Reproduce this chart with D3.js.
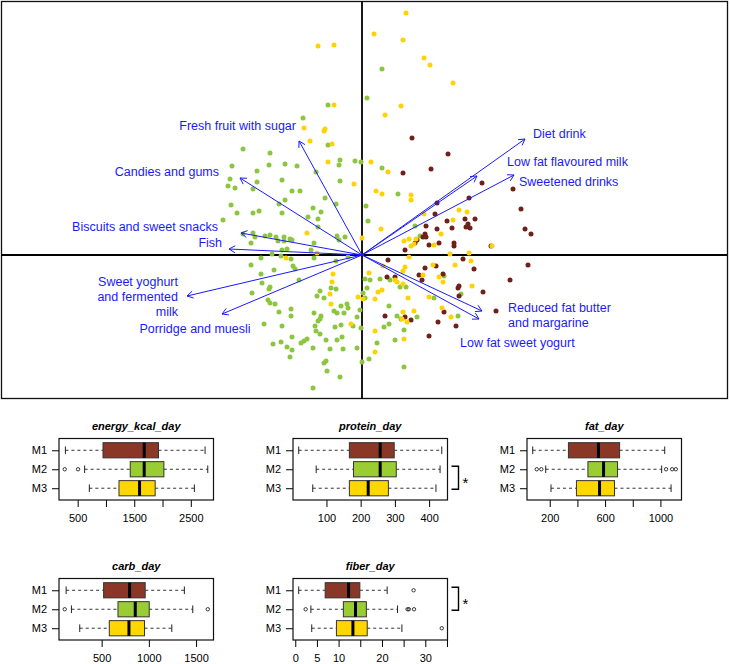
<!DOCTYPE html>
<html>
<head>
<meta charset="utf-8">
<script src="https://cdn.jsdelivr.net/npm/d3@7"></script>
<style>
  body { margin: 0; background: #fff; }
  text { font-family: "Liberation Sans", Arial, Helvetica, sans-serif; }
</style>
</head>
<body>
<div id="chart"></div>
<script>
// ---------- data ----------
const groups = ["M1", "M2", "M3"];

// PCA scores (PC1, PC2) per group
const scoresM1 = [
  [0.50,1.17],[0.86,1.01],[0.41,0.82],[0.69,0.86],[1.20,0.72],[1.51,0.66],[1.07,0.57],[0.75,0.52],
  [0.73,0.41],[1.59,0.46],[0.85,0.34],[0.90,0.27],[1.03,0.36],[1.13,0.36],[1.06,0.31],[1.04,0.28],
  [1.08,0.27],[1.63,0.26],[1.69,0.21],[0.64,0.29],[0.75,0.26],[0.63,0.21],[0.64,0.18],[0.55,0.15],
  [0.61,0.18],[0.53,0.12],[0.67,0.10],[0.77,0.12],[0.92,0.12],[0.92,0.09],[0.43,0.05],[1.29,0.09],
  [0.26,-0.05],[1.01,-0.04],[1.66,-0.10],[0.63,-0.13],[0.74,-0.11],[1.12,-0.14],[0.57,-0.20],[0.60,-0.25],
  [0.81,-0.19],[0.25,-0.22],[0.33,-0.22],[1.48,-0.25],[0.97,-0.31],[0.96,-0.33],[1.21,-0.37],[0.97,-0.41],
  [0.82,-0.57],[1.34,-0.56],[0.23,-0.61],[0.43,-0.62],[0.49,-0.65],[0.76,-0.67],[0.94,-0.71],[0.67,-0.81]
];
const scoresM2 = [
  [-0.34,1.50],[-0.59,1.37],[-0.34,1.10],[-1.19,1.06],[-0.92,1.02],[-1.30,0.89],[-0.93,0.90],[-0.77,0.91],
  [-0.65,0.89],[-0.22,0.95],[-0.23,0.90],[-0.07,0.94],[-0.01,0.93],[-0.46,0.83],[-1.32,0.76],[-1.05,0.84],
  [-1.05,0.73],[-0.80,0.75],[-1.34,0.69],[-1.27,0.67],[-1.09,0.66],[-0.22,0.74],[-0.70,0.64],[-0.62,0.64],
  [-0.37,0.57],[-0.77,0.55],[-0.83,0.51],[-1.31,0.50],[-0.26,0.51],[-0.49,0.47],[-1.03,0.44],[-1.09,0.42],
  [-1.25,0.42],[-0.80,0.42],[-0.41,0.43],[-0.54,0.38],[-0.44,0.36],[-1.39,0.35],[-0.44,0.28],[-1.09,0.22],
  [-1.19,0.21],[-0.97,0.19],[-0.92,0.20],[-0.86,0.18],[-0.78,0.18],[-0.72,0.16],[-0.70,0.15],[-1.07,0.18],
  [-0.25,0.19],[-0.17,0.18],[-0.23,0.15],[-1.11,0.12],[-0.84,0.14],[-0.78,0.14],[-0.48,0.12],[-0.80,0.05],
  [-0.75,0.06],[-0.51,0.05],[-0.90,0.01],
  [0.20,1.86],[0.05,1.57],[0.20,0.87],[0.36,0.61],[0.04,0.49],[0.06,0.34],[0.53,0.29],[0.58,0.19],
  [-1.01,-0.03],[-0.81,-0.01],[-0.71,-0.04],[-0.48,-0.03],[-0.26,-0.06],[-0.14,-0.02],[-1.11,-0.10],[-1.01,-0.19],
  [-0.88,-0.15],[-0.69,-0.11],[-0.67,-0.14],[-1.00,-0.28],[-0.92,-0.32],[-0.93,-0.34],[-1.10,-0.38],[-0.63,-0.25],
  [-0.42,-0.36],[-0.45,-0.41],[-0.38,-0.43],[-0.31,-0.33],[-0.26,-0.34],[0.01,-0.38],[-0.94,-0.45],[-0.92,-0.48],
  [-0.87,-0.49],[-0.71,-0.54],[-0.71,-0.61],[-0.83,-0.57],[-0.48,-0.58],[-0.41,-0.61],[-0.42,-0.64],[-0.44,-0.66],
  [-0.28,-0.56],[-0.25,-0.58],[-0.21,-0.51],[-0.15,-0.49],[-0.14,-0.53],[-0.18,-0.58],[-0.02,-0.55],[-0.05,-0.62],
  [-0.98,-0.69],[-0.80,-0.71],[-0.47,-0.71],[-0.46,-0.76],[-0.42,-0.79],[-0.27,-0.72],[-0.21,-0.70],[-0.09,-0.71],
  [-0.01,-0.73],[-0.70,-0.82],[-0.61,-0.88],[-0.58,-0.86],[-0.55,-0.84],[-0.89,-0.89],[-0.81,-0.87],[-0.75,-0.92],
  [-0.70,-0.95],[-0.49,-0.93],[-0.36,-0.85],[-0.25,-0.85],[-0.20,-0.82],[-0.32,-0.94],[-0.19,-0.94],[-0.05,-0.93],
  [-0.72,-1.02],[-0.38,-1.08],[-0.36,-1.06],[0.00,-1.07],[-0.35,-1.16],[-0.22,-1.22],[-0.49,-1.33],
  [0.03,-0.24],[0.08,-0.25],[0.18,-0.24],[0.28,-0.25],[0.82,-0.21],[0.38,-0.32],[0.44,-0.32],[0.05,-0.33],
  [0.99,-0.39],[0.72,-0.43],[0.03,-0.43],[0.27,-0.51],[0.35,-0.61],[0.39,-0.64],[0.55,-0.62],[0.96,-0.61],
  [0.27,-0.69],[0.22,-0.72],[0.42,-0.75],[0.33,-0.85],[0.15,-0.88],[0.07,-1.04],[0.42,-1.12]
];
const scoresM3 = [
  [-0.44,2.09],[-0.28,2.10],[-0.28,1.50],[-0.58,1.27],[-0.37,1.26],[-0.38,1.24],[-0.52,1.14],[-0.30,1.11],
  [-0.34,0.93],[-0.08,0.71],[-0.55,0.22],[0.00,0.17],[-0.45,0.02],
  [0.44,2.42],[0.12,2.21],[0.41,2.15],[0.62,1.97],[0.68,1.90],[0.91,1.72],[0.39,1.49],[0.23,1.40],
  [0.09,0.93],[0.26,0.83],[0.14,0.64],[0.20,0.61],[0.49,0.60],[0.49,0.55],[0.97,0.45],[1.05,0.43],
  [0.62,0.41],[0.91,0.35],[0.19,0.26],[0.79,0.21],[0.42,0.14],[0.47,0.16],[0.54,0.16],[0.49,0.09],
  [0.52,0.11],[0.72,0.10],[1.30,0.09],[0.88,0.01],[1.07,0.02],
  [-0.76,-0.03],[-0.29,-0.19],[-0.30,-0.27],[-0.32,-0.39],[-0.04,-0.42],[0.01,-0.44],[-0.31,-0.49],[-0.11,-0.69],
  [0.47,-0.02],[1.09,-0.06],[0.43,-0.12],[0.41,-0.16],[0.71,-0.10],[0.93,-0.10],[0.21,-0.11],[0.61,-0.20],
  [0.77,-0.22],[0.81,-0.27],[0.33,-0.25],[0.35,-0.27],[0.07,-0.18],[1.10,-0.31],[0.41,-0.29],[0.20,-0.35],
  [0.16,-0.37],[0.13,-0.44],[0.67,-0.42],[0.46,-0.43],[0.80,-0.53],[0.41,-0.57],[0.52,-0.56],[0.89,-0.62],
  [0.40,-0.64],[0.45,-0.67],[0.13,-0.76],[0.42,-0.84],[0.13,-0.97]
];

// loadings (arrows)
const loadingNames = [
  ["Fresh fruit with sugar"], ["Candies and gums"], ["Biscuits and sweet snacks"], ["Fish"],
  ["Sweet yoghurt", "and fermented", "milk"], ["Porridge and muesli"], ["Diet drink"],
  ["Low fat flavoured milk"], ["Sweetened drinks"], ["Reduced fat butter", "and margarine"],
  ["Low fat sweet yogurt"]
];
const loadingPC1 = [-0.63, -1.22, -1.21, -1.33, -1.75, -1.40, 1.63, 1.15, 1.52, 1.20, 1.17];
const loadingPC2 = [ 1.14,  0.77,  0.22,  0.06, -0.41, -0.59, 1.16, 0.79, 0.80, -0.56, -0.64];

// boxplot summaries: [lower whisker, Q1, median, Q3, upper whisker] for M1, M2, M3
const energyStats = [[283, 948, 1676, 1929, 2752], [623, 1429, 1676, 2024, 2800], [706, 1230, 1594, 1870, 2563]];
const energyOut = [[], [271, 507], []];
const proteinStats = [[19, 167, 257, 298, 437], [70, 179, 257, 304, 432], [60, 167, 222, 281, 420]];
const proteinOut = [[], [], []];
const fatStats = [[77, 335, 552, 705, 1031], [171, 476, 589, 690, 1009], [209, 393, 560, 668, 1077]];
const fatOut = [[], [106, 139, 1041, 1085, 1111], []];
const carbStats = [[124, 521, 796, 961, 1376], [180, 673, 856, 1004, 1465], [268, 581, 789, 954, 1243]];
const carbOut = [[], [109, 1624], []];
const fiberStats = [[0.8, 6.9, 12.3, 14.9, 21.2], [3.6, 11.1, 13.9, 16.4, 23.6], [3.8, 9.5, 13.3, 16.6, 24.6]];
const fiberOut = [[27.3], [2.4, 25.9, 26.2, 27.4], [33.8]];

// tick values and which ones carry labels
const energyTicks = [500, 1000, 1500, 2000, 2500], energyLabels = [500, 1500, 2500];
const proteinTicks = [100, 200, 300, 400], proteinLabels = [100, 200, 300, 400];
const fatTicks = [200, 400, 600, 800, 1000], fatLabels = [200, 600, 1000];
const carbTicks = [500, 1000, 1500], carbLabels = [500, 1000, 1500];
const fiberTicks = [0, 5, 10, 15, 20, 25, 30, 35], fiberLabels = [0, 5, 10, 20, 30];

// ---------- styles ----------
const pointColors = { M1: "#6f2119", M2: "#8cc63f", M3: "#ffd200" };
const boxColors = ["#8b3728", "#9acd32", "#ffd700"];
const blue = "#1a1aff";

var svg = d3.select("#chart").append("svg")
  .attr("width", 730).attr("height", 664);

// ---------- biplot ----------
var bx = d3.scaleLinear().domain([-3.61, 3.65]).range([1, 727]);
var by = d3.scaleLinear().domain([-1.44, 2.54]).range([399, 1]);

svg.append("rect")
  .attr("x", 1.5).attr("y", 1.5).attr("width", 726).attr("height", 397)
  .attr("fill", "none").attr("stroke", "#111").attr("stroke-width", 1.3);

svg.append("line")
  .attr("x1", 1).attr("x2", 727).attr("y1", by(0)).attr("y2", by(0))
  .attr("stroke", "#000").attr("stroke-width", 1.8);
svg.append("line")
  .attr("x1", bx(0)).attr("x2", bx(0)).attr("y1", 1).attr("y2", 399)
  .attr("stroke", "#000").attr("stroke-width", 1.8);

// points
[["M2", scoresM2], ["M1", scoresM1], ["M3", scoresM3]].forEach(function (s) {
  svg.append("g").selectAll("circle")
    .data(s[1]).join("circle")
    .attr("cx", d => bx(d[0]))
    .attr("cy", d => by(d[1]))
    .attr("r", 2.5)
    .attr("fill", pointColors[s[0]]);
});

// label placement relative to arrow tip: [dx, dy, anchor]
const labelLayout = [
  [-3, -15, "end"], [-21, -6, "end"], [-23, -6, "end"], [-7, -6, "end"],
  [-9, -14, "end"], [-27, 15, "middle"], [8, -5, "start"],
  [30, -14, "start"], [5, 7, "start"], [26, -3, "start"], [-19, 24, "start"]
];

var arrows = svg.append("g");
loadingNames.forEach(function (name, i) {
  var x0 = bx(0), y0 = by(0);
  var x1 = bx(loadingPC1[i]), y1 = by(loadingPC2[i]);
  arrows.append("line")
    .attr("x1", x0).attr("y1", y0).attr("x2", x1).attr("y2", y1)
    .attr("stroke", blue).attr("stroke-width", 1);
  var a = Math.atan2(y1 - y0, x1 - x0), L = 7, w = Math.PI / 6;
  arrows.append("path")
    .attr("d", `M${x1 - L * Math.cos(a - w)},${y1 - L * Math.sin(a - w)}L${x1},${y1}L${x1 - L * Math.cos(a + w)},${y1 - L * Math.sin(a + w)}`)
    .attr("fill", "none").attr("stroke", blue).attr("stroke-width", 1);

  var lay = labelLayout[i];
  var t = arrows.append("text")
    .attr("x", x1 + lay[0]).attr("y", y1 + lay[1])
    .attr("text-anchor", lay[2])
    .attr("fill", blue)
    .style("font-size", "12.5px");
  name.forEach(function (line, k) {
    t.append("tspan")
      .attr("x", x1 + lay[0])
      .attr("y", y1 + lay[1] + k * 15)
      .attr("dy", "0.35em")
      .text(line);
  });
});

// ---------- boxplots ----------
const panels = [
  { title: "energy_kcal_day", stats: energyStats, out: energyOut, ticks: energyTicks, labels: energyLabels, x: 59, y: 438.5, sig: null },
  { title: "protein_day", stats: proteinStats, out: proteinOut, ticks: proteinTicks, labels: proteinLabels, x: 293, y: 438.5, sig: [2, 3] },
  { title: "fat_day", stats: fatStats, out: fatOut, ticks: fatTicks, labels: fatLabels, x: 527, y: 438.5, sig: null },
  { title: "carb_day", stats: carbStats, out: carbOut, ticks: carbTicks, labels: carbLabels, x: 59, y: 578.5, sig: null },
  { title: "fiber_day", stats: fiberStats, out: fiberOut, ticks: fiberTicks, labels: fiberLabels, x: 293, y: 578.5, sig: [1, 2] }
];
const pw = 154.5, ph = 61.5;

panels.forEach(function (p) {
  var g = svg.append("g").attr("transform", `translate(${p.x},${p.y})`);
  var all = d3.merge(p.stats.concat(p.out));
  var lo = d3.min(all), hi = d3.max(all), pad = (hi - lo) * 0.04;
  var x = d3.scaleLinear().domain([lo - pad, hi + pad]).range([0, pw]);
  var y = d3.scaleLinear().domain([0.38, 3.62]).range([0, ph]);
  var half = y(1.4) - y(1);

  // title
  g.append("text")
    .attr("x", pw / 2).attr("y", -9)
    .attr("text-anchor", "middle")
    .style("font-size", "11px").style("font-weight", "bold").style("font-style", "italic")
    .text(p.title);

  p.stats.forEach(function (s, i) {
    var cy = y(i + 1);
    // whiskers
    g.append("line").attr("x1", x(s[0])).attr("x2", x(s[1])).attr("y1", cy).attr("y2", cy)
      .attr("stroke", "#333").attr("stroke-dasharray", "3,3");
    g.append("line").attr("x1", x(s[3])).attr("x2", x(s[4])).attr("y1", cy).attr("y2", cy)
      .attr("stroke", "#333").attr("stroke-dasharray", "3,3");
    [s[0], s[4]].forEach(function (v) {
      g.append("line").attr("x1", x(v)).attr("x2", x(v))
        .attr("y1", cy - half / 2).attr("y2", cy + half / 2)
        .attr("stroke", "#222");
    });
    // box
    g.append("rect")
      .attr("x", x(s[1])).attr("y", cy - half)
      .attr("width", x(s[3]) - x(s[1])).attr("height", half * 2)
      .attr("fill", boxColors[i]).attr("stroke", "#333").attr("stroke-width", 1);
    // median
    g.append("line").attr("x1", x(s[2])).attr("x2", x(s[2]))
      .attr("y1", cy - half).attr("y2", cy + half)
      .attr("stroke", "#000").attr("stroke-width", 3);
    // outliers
    g.selectAll(null).data(p.out[i]).join("circle")
      .attr("cx", d => x(d)).attr("cy", cy).attr("r", 1.7)
      .attr("fill", "none").attr("stroke", "#222").attr("stroke-width", 0.9);
  });

  // axes
  var xa = g.append("g").attr("transform", `translate(0,${ph})`)
    .call(d3.axisBottom(x).tickValues(p.ticks).tickSize(7).tickPadding(7)
      .tickFormat(d => p.labels.includes(d) ? d : ""));
  var ya = g.append("g")
    .call(d3.axisLeft(y).tickValues([1, 2, 3]).tickSize(7).tickPadding(5)
      .tickFormat(d => groups[d - 1]));
  [xa, ya].forEach(function (a) {
    a.select(".domain").remove();
    a.selectAll("text").style("font-size", "11px").style("font-family", '"Liberation Sans", Arial, sans-serif');
  });

  // frame
  g.append("rect").attr("width", pw).attr("height", ph)
    .attr("fill", "none").attr("stroke", "#111").attr("stroke-width", 1.2);

  // significance bracket
  if (p.sig) {
    var ya1 = y(p.sig[0]) - 3, ya2 = y(p.sig[1]) + 1;
    g.append("path")
      .attr("d", `M${pw + 4},${ya1}H${pw + 11}V${ya2}H${pw + 4}`)
      .attr("fill", "none").attr("stroke", "#000").attr("stroke-width", 1.4);
    g.append("text")
      .attr("x", pw + 15).attr("y", (ya1 + ya2) / 2 + 10)
      .style("font-size", "15px")
      .text("*");
  }
});
</script>
</body>
</html>
